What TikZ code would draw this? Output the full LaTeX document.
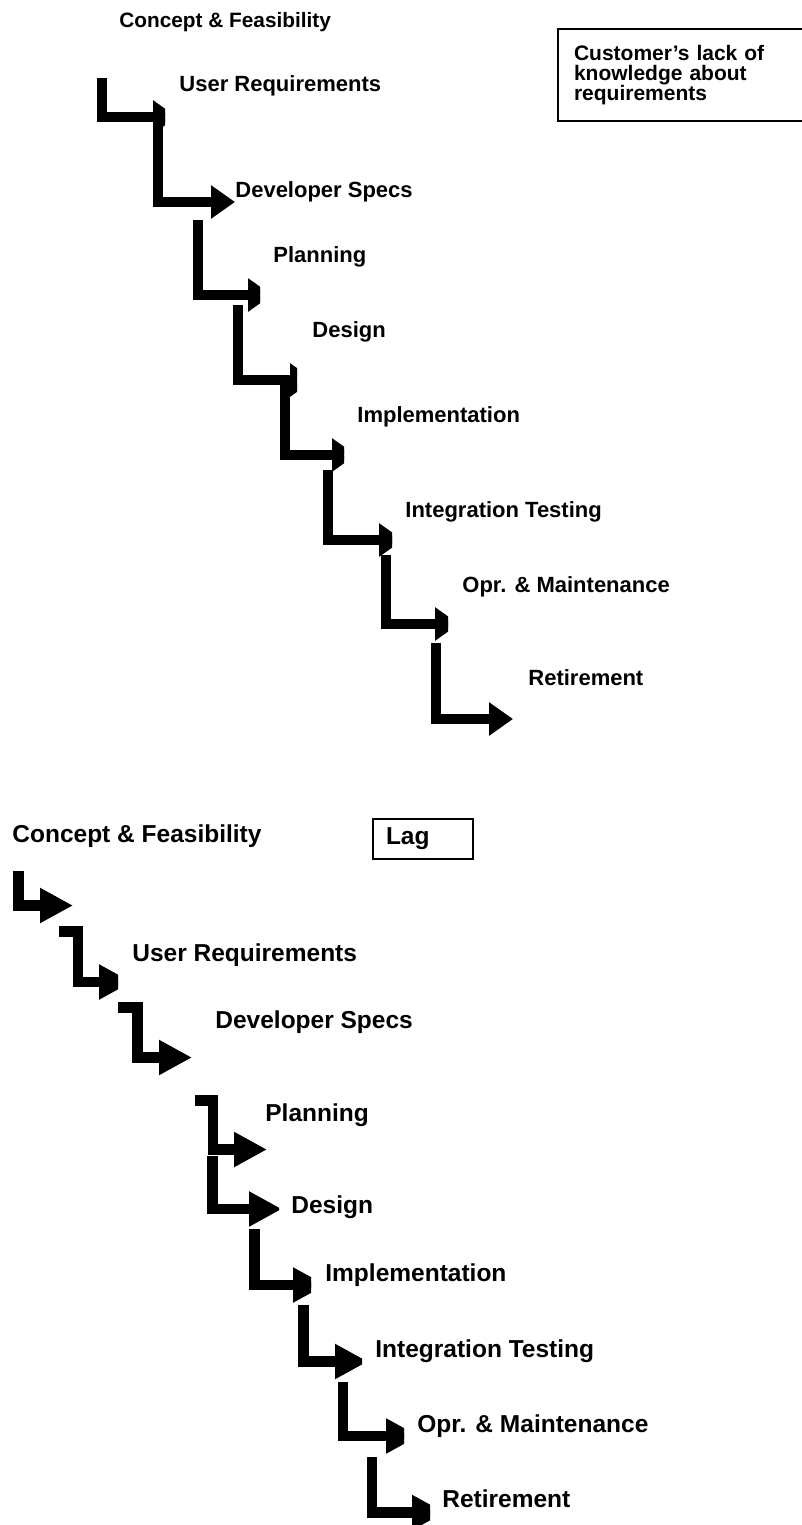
\documentclass[tikz,border=0pt]{standalone}
\usepackage{fontspec}
\setmainfont{Liberation Sans}
\usetikzlibrary{arrows.meta}

% clip a stair arrow so that its head is cut off at x
\newcommand{\cutat}[1]{\clip (0,0) rectangle (#1,1525);}

\begin{document}
\begin{tikzpicture}[
  x=0.5pt, y=-0.5pt,
  upper/.style={font=\fontsize{11}{13}\selectfont\bfseries, anchor=base west, inner sep=0pt},
  lower/.style={font=\fontsize{12.25}{14}\selectfont\bfseries, anchor=base west, inner sep=0pt},
  upstair/.style={line width=5.25pt, line join=miter, -{Triangle[length=12pt, width=16pt]}},
  lowstair/.style={line width=5.25pt, line join=miter, -{Triangle[length=16.5pt, width=16.5pt]}},
  note/.style={draw, line width=1pt, anchor=north west, align=left, inner ysep=0pt},
]
\useasboundingbox (0,0) rectangle (802,1525);

% upper run: phases in sequence
\node[upper, font=\fontsize{10.4}{13}\selectfont\bfseries] (uconcept) at (119,28) {Concept \& Feasibility};
\node[upper] (ureq) at (179,92) {User Requirements};
\node[upper] (uspec) at (235,197) {Developer Specs};
\node[upper] (uplan) at (273,262) {Planning};
\node[upper] (udesign) at (312,337) {Design};
\node[upper] (uimpl) at (357,422) {Implementation};
\node[upper] (uinteg) at (405,517) {Integration Testing};
\node[upper] (uopr) at (462,592) {Opr. \& Maintenance};
\node[upper] (uretire) at (528,685) {Retirement};
\begin{scope}
\clip (0,0) rectangle (802,1525);
\node[note, font=\fontsize{10.5}{10}\selectfont\bfseries, text width=115pt, inner xsep=8pt, minimum height=46pt] (custbox) at (557,28) {Customer’s lack of\\knowledge about\\requirements};
\end{scope}

\coordinate (t1a) at (102,78);  \coordinate (t1b) at (177,117);
\coordinate (t2a) at (158,127); \coordinate (t2b) at (235,202);
\coordinate (t3a) at (198,220); \coordinate (t3b) at (272,295);
\coordinate (t4a) at (238,305); \coordinate (t4b) at (314,380);
\coordinate (t5a) at (285,385); \coordinate (t5b) at (356,455);
\coordinate (t6a) at (328,470); \coordinate (t6b) at (403,540);
\coordinate (t7a) at (386,555); \coordinate (t7b) at (459,624);
\coordinate (t8a) at (436,643); \coordinate (t8b) at (513,719);

\begin{scope}\cutat{165}\draw[upstair] (t1a) |- (t1b);\end{scope}
\draw[upstair] (t2a) |- (t2b);
\begin{scope}\cutat{260}\draw[upstair] (t3a) |- (t3b);\end{scope}
\begin{scope}\cutat{297}\draw[upstair] (t4a) |- (t4b);\end{scope}
\begin{scope}\cutat{344}\draw[upstair] (t5a) |- (t5b);\end{scope}
\begin{scope}\cutat{392}\draw[upstair] (t6a) |- (t6b);\end{scope}
\begin{scope}\cutat{448}\draw[upstair] (t7a) |- (t7b);\end{scope}
\draw[upstair] (t8a) |- (t8b);

% lower run: phases overlapping with lag
\node[lower] (lconcept) at (12,842) {Concept \& Feasibility};
\node[note, font=\fontsize{12.25}{14}\selectfont\bfseries, text width=37pt, inner xsep=6.5pt, minimum height=20pt] (lagbox) at (372,818) {Lag};
\node[lower] (lreq) at (132,961) {User Requirements};
\node[lower] (lspec) at (215,1028) {Developer Specs};
\node[lower] (lplan) at (265,1121) {Planning};
\node[lower] (ldesign) at (291,1213) {Design};
\node[lower] (limpl) at (325,1281) {Implementation};
\node[lower] (linteg) at (375,1357) {Integration Testing};
\node[lower] (lopr) at (417,1432) {Opr. \& Maintenance};
\node[lower] (lretire) at (442,1507) {Retirement};

\coordinate (b1a) at (18.5,871);   \coordinate (b1b) at (73,905.5);
\coordinate (b2a) at (59,931.5);   \coordinate (b2b) at (132,982);
\coordinate (b3a) at (118,1007.5); \coordinate (b3b) at (192,1057.5);
\coordinate (b4a) at (195,1100.5); \coordinate (b4b) at (267,1149.5);
\coordinate (b5a) at (212.5,1156); \coordinate (b5b) at (282,1209);
\coordinate (b6a) at (254.5,1229); \coordinate (b6b) at (326,1285);
\coordinate (b7a) at (303.5,1305); \coordinate (b7b) at (368,1361.5);
\coordinate (b8a) at (343,1382);   \coordinate (b8b) at (419,1436);
\coordinate (b9a) at (372,1457);   \coordinate (b9b) at (445,1512.5);

\draw[lowstair] (b1a) |- (b1b);
\begin{scope}\cutat{118}\draw[lowstair] (b2a) -- ++(19,0) |- (b2b);\end{scope}
\draw[lowstair] (b3a) -- ++(19.5,0) |- (b3b);
\draw[lowstair] (b4a) -- ++(18,0) |- (b4b);
\begin{scope}\cutat{279}\draw[lowstair] (b5a) |- (b5b);\end{scope}
\begin{scope}\cutat{311}\draw[lowstair] (b6a) |- (b6b);\end{scope}
\begin{scope}\cutat{362}\draw[lowstair] (b7a) |- (b7b);\end{scope}
\begin{scope}\cutat{404}\draw[lowstair] (b8a) |- (b8b);\end{scope}
\begin{scope}\cutat{430}\draw[lowstair] (b9a) |- (b9b);\end{scope}
\end{tikzpicture}
\end{document}
